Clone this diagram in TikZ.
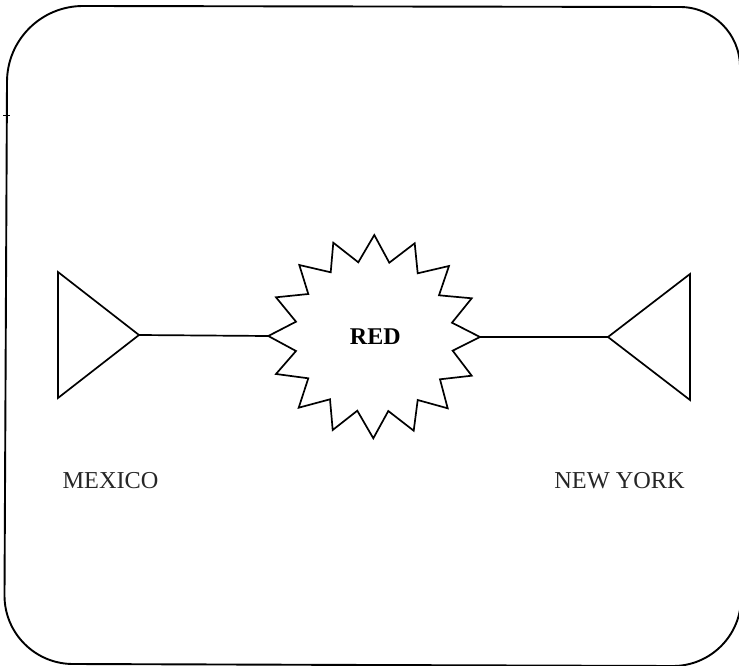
\documentclass[tikz,border=0pt]{standalone}
\usepackage{fontspec}
\setmainfont{Liberation Serif}
\tikzset{
  outline/.style={draw=black,line width=1.7pt,line join=miter},
  frameline/.style={draw=black,line width=1.9pt},
  lbl/.style={inner sep=0pt,font=\fontsize{24.3pt}{26pt}\selectfont,text=black!85},
  hub/.style={inner sep=0pt,font=\bfseries\fontsize{24pt}{26pt}\selectfont}
}
\begin{document}
\begin{tikzpicture}[x=1pt,y=-1pt]
\useasboundingbox (0,0) rectangle (739,666);
\begin{scope}
\clip (0,0) rectangle (739,666);
\draw[frameline] (7,82) arc[start angle=180,end angle=270,radius=76] -- (680,7) arc[start angle=270,end angle=360,radius=60] -- (741,67) -- (741,598) arc[start angle=0,end angle=90,radius=68] -- (73,664) arc[start angle=90,end angle=180,radius=68.5] -- cycle;
\end{scope}
\draw[draw=black,line width=0.8pt] (3,115) -- (10,115);
% triangles
\coordinate (mx) at (139,335);
\coordinate (ny) at (608,337);
\draw[outline] (58,272) -- (mx) -- (58,398) -- cycle;
\draw[outline] (690,274) -- (ny) -- (690,400) -- cycle;
% star
\coordinate (sw) at (268.3,336);
\coordinate (se) at (480,337);
\draw[outline] (374.3,235) -- (389.3,262.7) -- (414.7,243.3) -- (417.7,273.3) -- (449,266) -- (439,295.3) -- (471.7,298.3) -- (452,322.7) -- (se) -- (452.7,350.7) -- (471.7,375.7) -- (440,379.3) -- (447.7,408.3) -- (417.7,400) -- (413.7,430.7) -- (388.3,411) -- (373.3,438.3) -- (357.3,410.7) -- (332.7,430) -- (330,399.3) -- (298.7,407.7) -- (308.3,378.3) -- (276,374) -- (296,351) -- (sw) -- (296,321.7) -- (276,297.3) -- (308.3,294) -- (299.3,265) -- (330.7,272.3) -- (333.3,242.7) -- (358.3,262.3) -- cycle;
\draw[outline] (mx) -- (sw);
\draw[outline] (se) -- (ny);
\node[hub] (red) at (375.3,336.5) {RED};
\node[lbl] (mexico) at (110.5,480.5) {MEXICO};
\node[lbl] (newyork) at (619.5,481) {NEW YORK};
\end{tikzpicture}
\end{document}
